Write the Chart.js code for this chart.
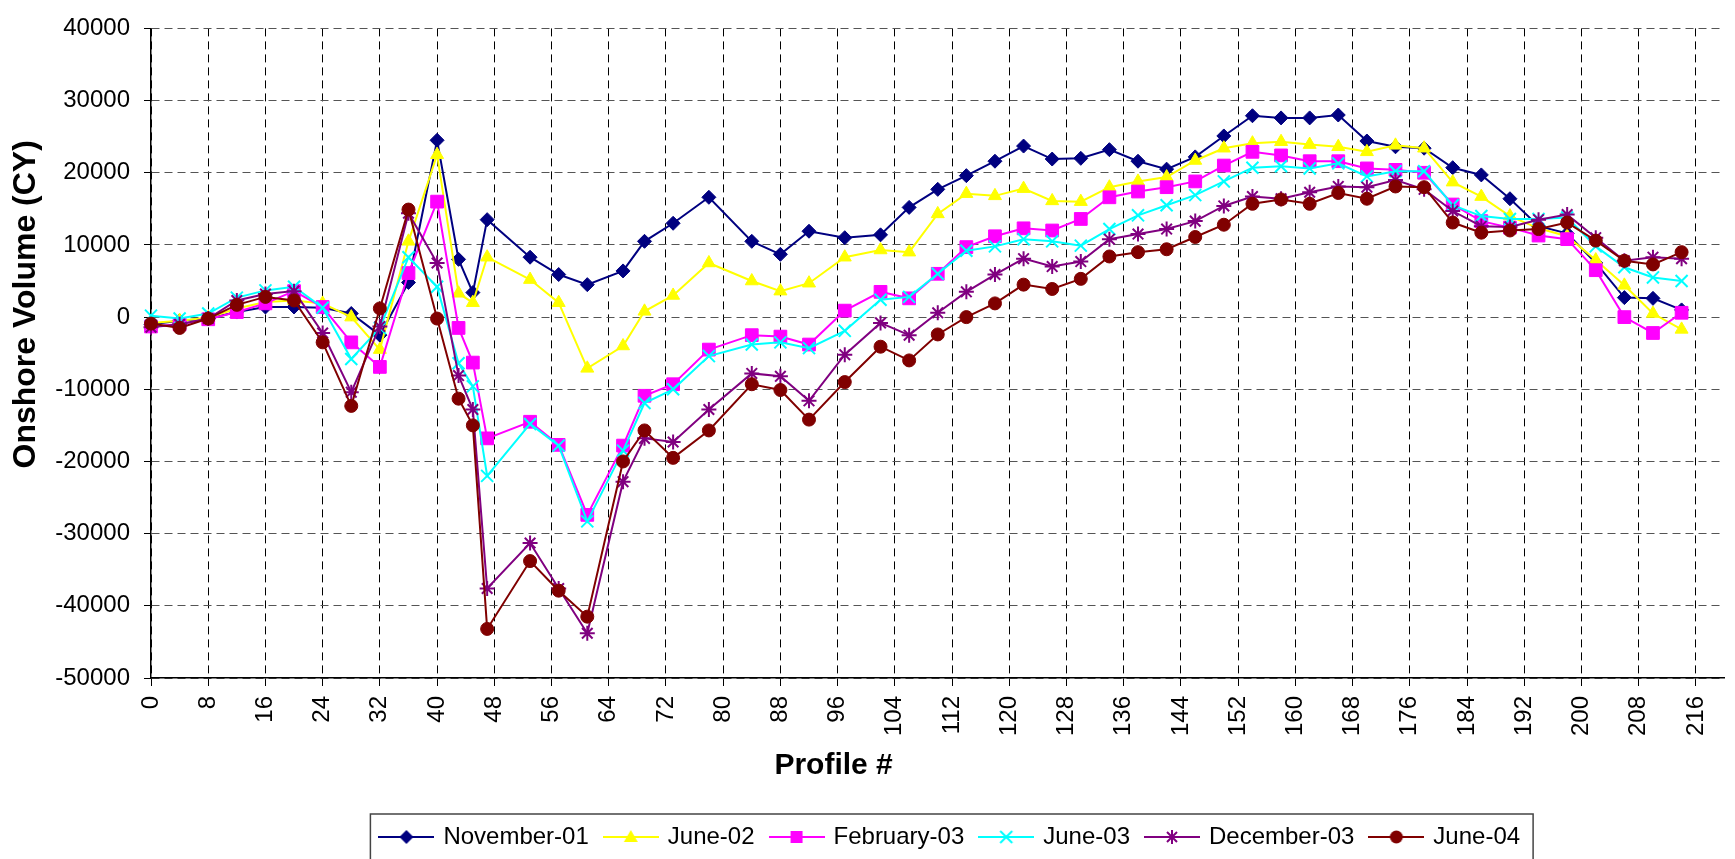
<!DOCTYPE html>
<html>
<head>
<meta charset="utf-8">
<title>Onshore Volume by Profile</title>
<script src="https://cdn.jsdelivr.net/npm/chart.js@4.4.1/dist/chart.umd.min.js"></script>
<style>
  html, body { margin: 0; padding: 0; background: #fff; }
  #wrap { position: relative; width: 1735px; height: 859px; }
</style>
</head>
<body>
<div id="wrap"><canvas id="volume"></canvas></div>
<script>
// profile numbers where the surveys were taken
var profile = [0, 4, 8, 12, 16, 20, 24, 28, 32, 36, 40, 43, 45, 47, 53, 57, 61, 66, 69, 73,
  78, 84, 88, 92, 97, 102, 106, 110, 114, 118, 122, 126, 130, 134, 138, 142, 146, 150, 154, 158,
  162, 166, 170, 174, 178, 182, 186, 190, 194, 198, 202, 206, 210, 214];

// onshore volume (CY) per survey
var nov01 = [-1000, -500, -200, 700, 1400, 1400, 1300, 500, -2500, 4800, 24500, 8000, 3400, 13500, 8300, 5900, 4500, 6400, 10500, 13000,
  16600, 10500, 8700, 11900, 11000, 11400, 15200, 17700, 19600, 21600, 23700, 21900, 22000, 23200, 21600, 20500, 22200, 25100, 27900, 27600,
  27600, 28000, 24400, 23600, 23400, 20700, 19700, 16400, 12600, 11600, 7500, 2700, 2600, 1000];
var jun02 = [-800, -500, -100, 1200, 2100, 2300, 1900, 0, -4500, 10500, 22500, 3300, 2000, 8300, 5200, 2000, -7100, -4000, 800, 3000,
  7500, 5000, 3600, 4700, 8300, 9300, 9000, 14300, 17100, 16800, 17800, 16100, 16000, 18000, 18800, 19400, 21700, 23400, 24100, 24300,
  23900, 23600, 22900, 23800, 23400, 18700, 16700, 14000, 12300, 11200, 7900, 4400, 500, -1700];
var feb03 = [-1300, -1000, -300, 700, 1900, 3600, 1400, -3500, -6900, 6100, 16000, -1500, -6300, -16800, -14500, -17700, -27400, -17800, -10900, -9300,
  -4500, -2500, -2700, -3800, 900, 3500, 2600, 6000, 9700, 11200, 12300, 12000, 13600, 16600, 17400, 18000, 18800, 21000, 22900, 22400,
  21600, 21600, 20600, 20400, 20000, 15600, 13300, 12400, 11300, 10800, 6500, 0, -2200, 600];
var jun03 = [200, -200, 500, 2700, 3700, 4200, 1300, -5800, -1500, 8300, 4200, -6400, -9600, -22000, -14800, -17800, -28300, -18500, -11900, -10000,
  -5400, -3800, -3500, -4300, -1900, 2400, 2800, 6000, 9200, 9800, 10800, 10500, 9900, 12200, 14100, 15500, 16900, 18800, 20700, 20900,
  20600, 21300, 19500, 20200, 20200, 15500, 14000, 13600, 13600, 13800, 9800, 6900, 5500, 5000];
var dec03 = [-1400, -1000, -200, 2300, 3200, 3600, -2200, -10400, -1300, 14400, 7500, -8100, -12800, -37600, -31300, -37600, -43800, -22800, -16800, -17300,
  -12800, -7800, -8200, -11600, -5200, -800, -2500, 600, 3500, 5900, 8100, 7000, 7700, 10800, 11500, 12200, 13300, 15400, 16700, 16400,
  17300, 18100, 18000, 19000, 17700, 14700, 12600, 12500, 13500, 14200, 11000, 7800, 8300, 8100];
var jun04 = [-900, -1500, -200, 1700, 2800, 2300, -3500, -12300, 1200, 14900, -200, -11300, -15000, -43200, -33800, -37900, -41500, -20000, -15700, -19500,
  -15700, -9300, -10100, -14200, -9000, -4100, -6000, -2400, 0, 1900, 4500, 3900, 5300, 8400, 9000, 9400, 11100, 12800, 15700, 16300,
  15700, 17200, 16400, 18100, 18000, 13100, 11700, 12000, 12200, 13100, 10600, 7800, 7300, 9000];

var seriesNames = ['November-01', 'June-02', 'February-03', 'June-03', 'December-03', 'June-04'];
var xTicks = [0, 8, 16, 24, 32, 40, 48, 56, 64, 72, 80, 88, 96, 104, 112, 120, 128, 136, 144, 152, 160, 168, 176, 184, 192, 200, 208, 216];
var yTicks = [-50000, -40000, -30000, -20000, -10000, 0, 10000, 20000, 30000, 40000];

Chart.defaults.font.family = "'Liberation Sans', Arial, sans-serif";
Chart.defaults.color = '#000';

// little line+marker pictures for the legend
function legendIcon(color, shape) {
  var c = document.createElement('canvas');
  c.width = 56; c.height = 24;
  var g = c.getContext('2d');
  var x = 28, y = 12;
  g.strokeStyle = color; g.fillStyle = color; g.lineWidth = 2;
  g.beginPath(); g.moveTo(0, y); g.lineTo(56, y); g.stroke();
  g.beginPath();
  if (shape === 'rectRot') {
    g.moveTo(x, y - 7); g.lineTo(x + 7, y); g.lineTo(x, y + 7); g.lineTo(x - 7, y); g.closePath(); g.fill();
  } else if (shape === 'triangle') {
    g.moveTo(x, y - 7); g.lineTo(x + 7, y + 5); g.lineTo(x - 7, y + 5); g.closePath(); g.fill();
  } else if (shape === 'rect') {
    g.fillRect(x - 6, y - 6, 12, 12);
  } else if (shape === 'crossRot') {
    g.moveTo(x - 6, y - 6); g.lineTo(x + 6, y + 6); g.moveTo(x + 6, y - 6); g.lineTo(x - 6, y + 6); g.stroke();
  } else if (shape === 'star') {
    g.moveTo(x - 5, y - 5); g.lineTo(x + 5, y + 5); g.moveTo(x + 5, y - 5); g.lineTo(x - 5, y + 5);
    g.moveTo(x, y - 7); g.lineTo(x, y + 7); g.stroke();
  } else {
    g.arc(x, y, 6.5, 0, Math.PI * 2); g.fill();
  }
  return c;
}

function series(idx, values, color, shape, radius, bw) {
  return {
    label: seriesNames[idx],
    data: profile.map(function (p, i) { return { x: p, y: values[i] }; }),
    borderColor: color,
    backgroundColor: color,
    borderWidth: 2,
    pointStyle: shape,
    pointRadius: radius,
    pointBackgroundColor: color,
    pointBorderColor: color,
    pointBorderWidth: bw,
    tension: 0,
    clip: false,
    order: 5 - idx
  };
}

var sets = [
  series(0, nov01, '#000080', 'rectRot', 7, 1),
  series(1, jun02, '#FFFF00', 'triangle', 7.5, 1),
  series(2, feb03, '#FF00FF', 'rect', 9, 1),
  series(3, jun03, '#00FFFF', 'crossRot', 8.5, 2),
  series(4, dec03, '#800080', 'star', 7.5, 2),
  series(5, jun04, '#800000', 'circle', 6.5, 1)
];
var icons = sets.map(function (d) { return legendIcon(d.borderColor, d.pointStyle); });

// nudge the legend a bit right and frame it, like the original
var legendFrame = {
  id: 'legendFrame',
  afterLayout: function (chart) {
    if (!chart.legend) return;
    chart.legend.left += 13;
    chart.legend.right += 13;
  },
  afterDraw: function (chart) {
    var boxes = chart.legend && chart.legend.legendHitBoxes;
    if (!boxes || !boxes.length) return;
    var first = boxes[0], last = boxes[boxes.length - 1];
    var cy = first.top + first.height / 2;
    var left = first.left - 11, right = last.left + last.width + 13;
    var ctx = chart.ctx;
    ctx.save();
    ctx.strokeStyle = '#444';
    ctx.lineWidth = 1.5;
    ctx.strokeRect(left, cy - 23, right - left, 60);
    ctx.restore();
  }
};

// the original's axis titles sit off-centre; blank padding shifts them
var xTitle = 'Profile #' + ' '.repeat(25);
var yTitle = ' '.repeat(11) + 'Onshore Volume (CY)';

var chart = new Chart(document.getElementById('volume').getContext('2d'), {
  type: 'line',
  data: { datasets: sets },
  plugins: [legendFrame],
  options: {
    responsive: true,
    maintainAspectRatio: false,
    animation: false,
    layout: { padding: { top: 23, right: 4, bottom: 0, left: 0 } },
    plugins: {
      tooltip: { enabled: false },
      legend: {
        position: 'bottom',
        fullSize: false,
        labels: {
          usePointStyle: true,
          pointStyleWidth: 50,
          padding: 17,
          font: { size: 24 },
          color: '#000',
          sort: function (a, b) { return a.datasetIndex - b.datasetIndex; },
          generateLabels: function (ch) {
            var items = Chart.defaults.plugins.legend.labels.generateLabels(ch);
            items.forEach(function (it) { it.pointStyle = icons[it.datasetIndex]; });
            return items;
          }
        }
      }
    },
    scales: {
      x: {
        type: 'linear',
        min: 0,
        max: 220,
        afterBuildTicks: function (s) { s.ticks = xTicks.map(function (v) { return { value: v }; }); },
        afterFit: function (s) { s.height = 130; },
        ticks: {
          autoSkip: false, maxRotation: 90, minRotation: 90, padding: 10,
          font: { size: 24 }, color: '#000',
          callback: function (v) { return String(v); }
        },
        grid: { color: '#000', lineWidth: 1, tickLength: 8, tickColor: '#000' },
        border: { display: true, color: '#000', width: 1.5, dash: [8, 5] },
        title: { display: true, text: xTitle, color: '#000', font: { size: 30, weight: 'bold' }, padding: { top: 0, bottom: 24 } }
      },
      y: {
        min: -50000,
        max: 40000,
        afterBuildTicks: function (s) { s.ticks = yTicks.map(function (v) { return { value: v }; }); },
        afterFit: function (s) { s.width = 151; },
        ticks: {
          padding: 14, font: { size: 24 }, color: '#000',
          callback: function (v) { return String(v); }
        },
        grid: { color: '#555', lineWidth: 1, tickLength: 7, tickColor: '#000' },
        border: { display: true, color: '#000', width: 1.5, dash: [8, 5] },
        title: { display: true, text: yTitle, color: '#000', font: { size: 32, weight: 'bold' }, padding: { top: 7, bottom: 0 } }
      }
    }
  }
});
</script>
</body>
</html>
